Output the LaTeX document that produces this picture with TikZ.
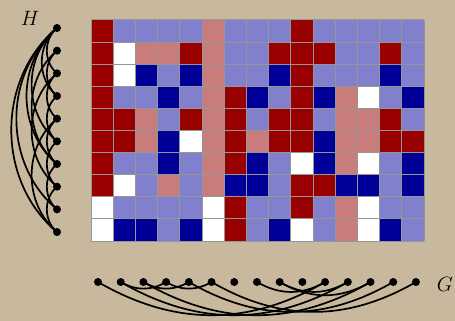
\documentclass[tikz,border=0pt]{standalone}
\definecolor{bg}{RGB}{200,185,158}
\definecolor{colR}{RGB}{153,0,0}
\definecolor{colP}{RGB}{200,124,124}
\definecolor{colL}{RGB}{128,128,204}
\definecolor{colB}{RGB}{0,0,153}
\definecolor{colW}{RGB}{255,255,255}
\definecolor{gridc}{RGB}{150,150,150}
\begin{document}
\begin{tikzpicture}[x=1pt,y=-1pt,
  vtx/.style={circle,fill=black,inner sep=0pt,minimum size=8pt},
  edge/.style={line width=1.7pt,black},
  lab/.style={font=\fontsize{20}{24}\selectfont}]
\fill[bg] (0,0) rectangle (455,321);
\useasboundingbox (0,0) rectangle (455,321);
% matrix
\foreach \row [count=\r from 0] in {
 {R,L,L,L,L,P,L,L,L,R,L,L,L,L,L},
 {R,W,P,P,R,P,L,L,R,R,R,L,L,R,L},
 {R,W,B,L,B,P,L,L,B,R,L,L,L,B,L},
 {R,L,L,B,L,P,R,B,L,R,B,P,W,L,B},
 {R,R,P,L,R,P,R,L,R,R,L,P,P,R,L},
 {R,R,P,B,W,P,R,P,R,R,B,P,P,R,R},
 {R,L,L,B,L,P,R,B,L,W,B,P,W,L,B},
 {R,W,L,P,L,P,B,B,L,R,R,B,B,L,B},
 {W,L,L,L,L,W,R,L,L,R,L,P,W,L,L},
 {W,B,B,L,B,W,R,L,B,W,L,P,W,B,L}} {
  \foreach \c [count=\k from 0] in \row {
    \fill[col\c] ({91+22.2*\k},{20+22.1*\r}) rectangle ++(22.2,22.1);
  }
}
\foreach \k in {0,...,15} \draw[gridc,line width=1pt] ({91+22.2*\k},20) -- ({91+22.2*\k},241);
\foreach \r in {0,...,10} \draw[gridc,line width=1pt] (91,{20+22.1*\r}) -- (424,{20+22.1*\r});
% graph H
\foreach \i in {0,...,9} \node[vtx] (h\i) at (57,{28+22.67*\i}) {};
\foreach \a/\b in {0/2,0/3,0/5,0/6,0/8,0/9,1/3,1/6,2/4,2/7,3/5,4/6,5/7,6/8,7/9,4/9}
  \draw[edge] (h\a.center) to[bend right=50] (h\b.center);
% graph G
\foreach \i in {0,...,14} \node[vtx] (g\i) at ({98+22.71*\i},282) {};
\foreach \a/\b in {0/10,1/3,1/11,2/4,2/12,3/5,4/13,5/14,7/10,8/11,8/12}
  \draw[edge] (g\a.center) to[bend right=30] (g\b.center);
\node[lab] (labH) at (30,18) {$H$};
\node[lab] (labG) at (445,284) {$G$};
\end{tikzpicture}
\end{document}
